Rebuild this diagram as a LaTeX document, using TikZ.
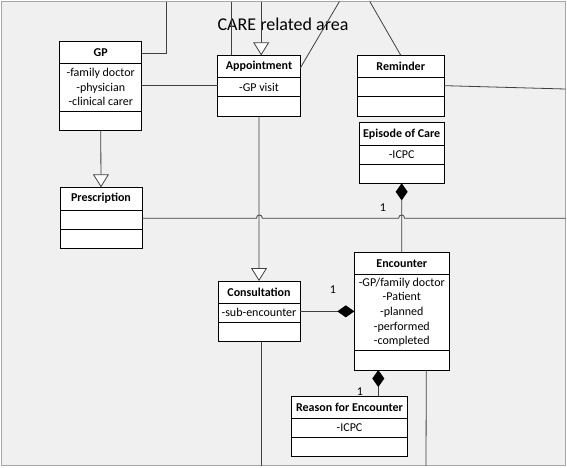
\documentclass[tikz,border=0pt]{standalone}
\usepackage{fontspec}
\setmainfont{Carlito}
\usetikzlibrary{arrows.meta}

\newcommand{\umlclass}[9]{%
  \node[classbox, minimum width={(#3-#2)*1pt}, minimum height={(#7-#4)*1pt}] (#1) at ({(#2+#3)/2},{(#4+#7)/2}) {};
  \draw[classline] (#2,#5) -- (#3,#5);
  \draw[classline] (#2,#6) -- (#3,#6);
  \node[classtitle] (#1-title) at ({(#2+#3)/2},{(#4+#5)/2}) {#8};
  \node[classattr] (#1-attr) at ({(#2+#3)/2},{(#5+#6)/2}) {#9};
}

\begin{document}
\begin{tikzpicture}[x=1pt,y=-1pt,
    classbox/.style={draw=black, fill=white, line width=0.9pt, inner sep=0pt, outer sep=0pt},
    classline/.style={black, line width=0.9pt},
    classtitle/.style={font=\fontsize{12}{14.7}\selectfont\bfseries, inner sep=0pt},
    classattr/.style={font=\fontsize{12}{14.7}\selectfont, align=center, inner sep=0pt},
    conn/.style={draw=black!75, line width=0.8pt},
    gen/.style={conn, -{Triangle[width=16pt,length=13pt,fill=white,line width=0.8pt]}},
    comp/.style={conn, {Diamond[width=12pt,length=17pt,color=black,fill=black]}-},
    mult/.style={font=\fontsize{12}{14.7}\selectfont, inner sep=0pt}]
\useasboundingbox (0,0) rectangle (567,467);
\draw[gray!70, fill=gray!12, line width=0.8pt] (1.5,1.5) rectangle (565.5,465.5);
\node[font=\fontsize{18}{20}\selectfont, inner sep=0pt] (area) at (283,24) {CARE related area};

\umlclass{gp}{59.7}{141.8}{41.7}{63.3}{111}{130}{GP}{-family doctor\\-physician\\-clinical carer}
\umlclass{appt}{217.8}{300.3}{55.3}{77.7}{96.7}{116}{Appointment}{-GP visit}
\umlclass{rem}{357.5}{444}{55.3}{77.7}{96.7}{116}{Reminder}{}
\umlclass{epi}{359.3}{444}{122.7}{145}{164}{183.3}{Episode of Care}{-ICPC}
\umlclass{presc}{60}{142}{187.3}{210}{229.3}{248.3}{Prescription}{}
\umlclass{cons}{218}{300}{281}{303.3}{322.3}{341.7}{Consultation}{-sub-encounter}
\umlclass{enc}{354.3}{449.3}{252.3}{274}{350.7}{370}{Encounter}{-GP/family doctor\\-Patient\\-planned\\-performed\\-completed}
\umlclass{reason}{291.7}{407.3}{396}{418.3}{437.3}{456.7}{Reason for Encounter}{-ICPC}

\coordinate (gpup) at (166.4,1.5);
\coordinate (apptup1) at (231.5,1.5);
\coordinate (apptup2) at (261.2,1.5);
\coordinate (apptup3) at (339.4,1.5);
\coordinate (remup) at (369.8,1.5);
\coordinate (remright) at (565.5,89);
\coordinate (prescright) at (565.5,218.3);
\coordinate (consdown) at (261,465.5);
\coordinate (encdown) at (426,465.5);

\draw[conn] ([yshift=-11.3pt]gp.north east) -| (gpup);
\draw[conn] (gp.east) -- (gp.east -| appt.west);
\draw[gen] (gp.south) -- (presc.north);
\draw[conn] (apptup1) -- (apptup1 |- appt.north);
\draw[gen] (apptup2) -- (apptup2 |- appt.north);
\draw[conn] ([yshift=-12.7pt]appt.north east) -- (apptup3);
\draw[conn] (rem.north) -- (remup);
\draw[conn] (rem.east) -- (remright);
\draw[gen] (appt.south) -- (cons.north);
\draw[conn] (presc.east |- prescright) -- (256.4,218.3)
  .. controls (256.4,213.8) and (262.4,213.8) .. (262.4,218.3)
  -- (398.6,218.3) .. controls (398.6,213.8) and (404.6,213.8) .. (404.6,218.3)
  -- (prescright);
\draw[comp] (epi.south) -- (enc.north);
\draw[comp] (enc.west |- cons.east) -- (cons.east);
\draw[comp] ([xshift=-23.5pt]enc.south) -- ([xshift=-23.5pt]enc.south |- reason.north);
\draw[conn] ([xshift=2pt]cons.south) -- (consdown);
\draw[conn] ([xshift=24.5pt]enc.south) -- (encdown);

\node[mult] (m1) at (382.8,207.3) {1};
\node[mult] (m2) at (333,290) {1};
\node[mult] (m3) at (360,392) {1};
\end{tikzpicture}
\end{document}
